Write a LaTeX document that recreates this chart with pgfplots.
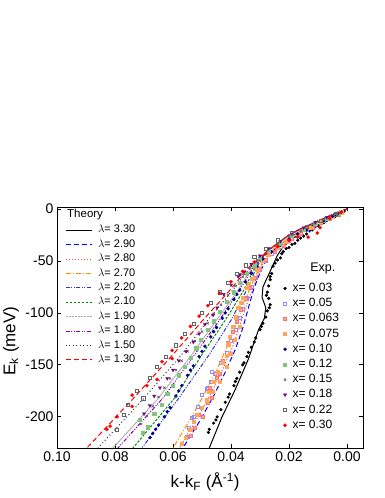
\documentclass[border=0pt]{standalone}
\usepackage{pgfplots}
\pgfplotsset{compat=1.18}
\usepackage{fontspec}
\setmainfont{Liberation Sans}

\definecolor{tblue}{RGB}{0,0,255}
\definecolor{tpink}{RGB}{255,80,80}
\definecolor{torange}{RGB}{255,140,0}
\definecolor{tnavy}{RGB}{50,50,200}
\definecolor{tgreen}{RGB}{0,140,0}
\definecolor{tgray}{RGB}{165,165,165}
\definecolor{tpurple}{RGB}{140,0,170}
\definecolor{tdark}{RGB}{50,50,50}
\definecolor{tred}{RGB}{255,0,0}
\definecolor{elav}{RGB}{140,140,255}
\definecolor{epink}{RGB}{255,110,110}
\definecolor{eorange}{RGB}{255,165,90}
\definecolor{enavy}{RGB}{0,0,150}
\definecolor{egreen}{RGB}{130,195,130}
\definecolor{egray}{RGB}{100,100,100}
\definecolor{epurple}{RGB}{120,0,130}

\pgfplotsset{
  base/.style={
    scale only axis, width=306pt, height=241pt,
    x dir=reverse, xmin=-0.0055, xmax=0.10, ymin=-230, ymax=2,
  },
}

\begin{document}
\begin{tikzpicture}
\path[use as bounding box] (-57pt,-50pt) rectangle (328pt,448pt);

% theory curves
\begin{axis}[base,
  xtick={0,0.02,0.04,0.06,0.08,0.10},
  ytick={-200,-150,-100,-50,0},
  scaled x ticks=false,
  xticklabel style={/pgf/number format/.cd, fixed, fixed zerofill, precision=2},
  tick label style={font=\fontsize{14}{16}\selectfont},
  /pgf/number format/assume math mode=true,
  tick align=inside, major tick length=4pt,
  axis line style={line width=0.9pt},
  every tick/.style={line width=0.8pt},
  xlabel={k-k\textsubscript{F} (Å\textsuperscript{-1})},
  ylabel={E\textsubscript{k} (meV)},
  label style={font=\fontsize{17}{19}\selectfont},
  xlabel style={at={(axis description cs:0.484,-0.141)}, anchor=center},
  ylabel style={at={(axis description cs:-0.150,0.444)}, anchor=center},
  legend image code/.code={\draw[#1, line width=1.1pt] (0pt,0pt) -- (26pt,0pt);},
  legend style={draw=none, fill=none, inner sep=0pt, outer sep=0pt,
    at={(rel axis cs:0.026,0.926)}, anchor=north west,
    font=\fontsize{11}{13}\selectfont,
    nodes={inner sep=0pt, text height=8pt, text depth=3pt},
    row sep=3.4pt, column sep=6pt},
  legend cell align=left,
]
\addplot[color=black, line width=1pt] table {
0 0
0.004 -5
0.008 -10
0.012 -16
0.016 -23
0.020 -31
0.0225 -38
0.0241 -45
0.0262 -58
0.029 -75
0.0293 -85
0.028 -95
0.0285 -105
0.0305 -116
0.0341 -145
0.0386 -174
0.0431 -200
0.0475 -230
};
\addplot[color=tblue, line width=1pt, dash pattern=on 5pt off 3pt] table {
0 0
0.004 -5
0.008 -10
0.012 -15
0.016 -21
0.020 -28
0.024 -36
0.027 -45
0.029 -55
0.031 -68
0.0325 -80
0.034 -95
0.036 -115
0.0385 -135
0.042 -157
0.046 -180
0.051 -205
0.0566 -230
};
\addplot[color=tpink, line width=1pt, dash pattern=on 1.2pt off 1.8pt] table {
0 0
0.004 -5
0.008 -10
0.012 -15
0.016 -21
0.020 -28
0.024 -36
0.027 -44
0.0295 -55
0.0315 -68
0.033 -80
0.035 -95
0.037 -113
0.0395 -133
0.043 -155
0.047 -178
0.052 -203
0.0578 -230
};
\addplot[color=torange, line width=1pt, dash pattern=on 5pt off 2pt on 1pt off 2pt] table {
0 0
0.004 -5
0.008 -10
0.012 -15
0.016 -21
0.020 -28
0.024 -35
0.027 -43
0.030 -55
0.032 -67
0.034 -80
0.036 -95
0.0385 -113
0.041 -130
0.0445 -152
0.049 -177
0.054 -202
0.060 -230
};
\addplot[color=tnavy, line width=1pt, dash pattern=on 4pt off 1.5pt on 1pt off 1.5pt on 1pt off 1.5pt] table {
0 0
0.004 -4
0.008 -9
0.012 -14
0.016 -19
0.020 -25
0.024 -33
0.028 -42
0.031 -55
0.035 -80
0.040 -107
0.0475 -140
0.058 -182
0.0707 -230
};
\addplot[color=tgreen, line width=1pt, dash pattern=on 2.5pt off 1.5pt] table {
0 0
0.004 -4
0.008 -9
0.012 -14
0.016 -19
0.020 -25
0.024 -33
0.028 -42
0.0315 -55
0.036 -80
0.042 -107
0.050 -140
0.0595 -182
0.0738 -230
};
\addplot[color=tgray, line width=1pt, dash pattern=on 1pt off 0.5pt] table {
0 0
0.004 -4
0.008 -9
0.012 -14
0.016 -19
0.020 -25
0.024 -33
0.028 -42
0.0325 -55
0.038 -80
0.045 -107
0.0535 -140
0.065 -182
0.0807 -230
};
\addplot[color=tpurple, line width=1pt, dash pattern=on 4pt off 1.5pt on 1pt off 1.5pt on 1pt off 1.5pt] table {
0 0
0.004 -4
0.008 -9
0.012 -14
0.016 -19
0.020 -25
0.024 -33
0.028 -42
0.032 -55
0.0375 -80
0.044 -107
0.0525 -140
0.0635 -182
0.079 -230
};
\addplot[color=tdark, line width=1pt, dash pattern=on 1pt off 2.5pt] table {
0 0
0.004 -4
0.008 -9
0.012 -14
0.016 -19
0.020 -25
0.024 -33
0.028 -42
0.033 -55
0.040 -80
0.048 -107
0.057 -140
0.070 -182
0.0859 -230
};
\addplot[color=tred, line width=1pt, dash pattern=on 5pt off 3pt] table {
0 0
0.004 -4
0.008 -9
0.012 -14
0.016 -19
0.020 -25
0.024 -33
0.028 -42
0.0335 -55
0.041 -80
0.0497 -107
0.060 -140
0.0736 -182
0.0897 -230
};
\legend{$\lambda$= 3.30,$\lambda$= 2.90,$\lambda$= 2.80,$\lambda$= 2.70,$\lambda$= 2.20,$\lambda$= 2.10,$\lambda$= 1.90,$\lambda$= 1.80,$\lambda$= 1.50,$\lambda$= 1.30}
\node[anchor=west, inner sep=0pt, font=\fontsize{11.5}{13}\selectfont] at (rel axis cs:0.0327,0.967) {Theory};
\node[anchor=west, inner sep=0pt, font=\fontsize{12.5}{14}\selectfont] at (rel axis cs:0.827,0.743) {Exp.};
\end{axis}

% experimental points
\begin{axis}[base, hide axis,
  legend style={draw=none, fill=none, inner sep=0pt, outer sep=0pt,
    at={(rel axis cs:0.740,0.687)}, anchor=north west,
    font=\fontsize{12}{14}\selectfont,
    nodes={inner sep=0pt, text height=9pt, text depth=3pt},
    row sep=3.2pt, column sep=6pt},
  legend cell align=left,
]
\addplot[only marks, mark=*, mark size=1.4pt, black] table {
0.001 -2
0.002 -3
0.003 -5
0.004 -7
0.005 -8
0.006 -10
0.007 -11
0.008 -13
0.009 -14
0.010 -16
0.011 -17
0.012 -20
0.013 -21
0.014 -24
0.015 -26
0.016 -28
0.017 -30
0.018 -33
0.019 -34
0.020 -37
0.021 -38
0.022 -41
0.0225 -43
0.023 -47
0.024 -49
0.0248 -52
0.0255 -55
0.026 -62
0.0265 -65
0.0265 -68
0.027 -74
0.0275 -80
0.0278 -83
0.027 -86
0.0265 -92
0.0268 -95
0.0275 -98
0.028 -104
0.029 -110
0.0295 -113
0.030 -116
0.0315 -124
0.032 -128
0.033 -133
0.034 -138
0.0345 -142
0.0355 -148
0.036 -150
0.037 -157
0.038 -163
0.0385 -166
0.039 -170
0.0405 -178
0.041 -181
0.042 -186
0.0435 -193
0.0448 -200
0.0452 -203
0.046 -206
0.0475 -212
0.0478 -215
};
\addplot[only marks, mark=square, mark size=1.5pt, elav] table {
0.002 -3
0.005 -7
0.008 -11
0.011 -15
0.014 -20
0.017 -25
0.020 -30
0.023 -36
0.026 -43
0.028 -50
0.030 -58
0.0315 -66
0.033 -75
0.0345 -85
0.036 -96
0.037 -105
0.0385 -116
0.040 -127
0.0415 -138
0.0435 -148
0.0455 -158
0.0466 -157
0.047 -166
0.0479 -172
0.0485 -173
0.050 -179
0.0515 -190
0.053 -200
0.0534 -201
0.0545 -210
0.0552 -219
};
\addplot[only marks, mark=square*, mark size=1.5pt, draw=epink, fill=epink!60] table {
0.003 -5
0.006 -9
0.009 -13
0.012 -18
0.016 -24
0.019 -29
0.022 -35
0.025 -41
0.028 -49
0.030 -57
0.032 -66
0.0335 -76
0.035 -86
0.0365 -97
0.038 -108
0.0395 -118
0.041 -129
0.0428 -146
0.0438 -158
0.045 -162
0.0466 -182
0.0475 -172
0.048 -186
0.0497 -200
0.051 -198
0.0525 -210
0.054 -218
};
\addplot[only marks, mark=square*, mark size=1.6pt, draw=eorange, fill=eorange] table {
0.002 -3
0.005 -7
0.009 -12
0.013 -18
0.017 -24
0.021 -31
0.024 -37
0.027 -44
0.029 -50
0.031 -58
0.033 -67
0.034 -72
0.0345 -76
0.036 -85
0.0365 -90
0.0375 -95
0.0385 -104
0.0395 -113
0.0369 -113
0.0405 -123
0.0386 -126
0.041 -130
0.0403 -139
0.0415 -141
0.043 -148
0.0414 -152
0.0445 -157
0.046 -166
0.0438 -166
0.0475 -176
0.0462 -176
0.0485 -184
0.0483 -184
0.050 -191
0.0517 -198
0.053 -205
0.0541 -212
0.0555 -220
0.057 -226
};
\addplot[only marks, mark=*, mark size=1.5pt, enavy] table {
0.002 -3
0.005 -7
0.008 -11
0.011 -15
0.014 -20
0.017 -24
0.020 -29
0.023 -35
0.026 -41
0.029 -48
0.031 -55
0.033 -62
0.035 -70
0.037 -78
0.038 -82
0.039 -87
0.041 -96
0.042 -100
0.043 -105
0.045 -114
0.046 -118
0.047 -123
0.049 -132
0.050 -137
0.051 -142
0.053 -151
0.054 -155
0.055 -160
0.057 -170
0.058 -175
0.059 -180
0.061 -191
0.062 -195
0.063 -200
0.065 -208
0.066 -212
0.067 -216
0.0679 -220
};
\addplot[only marks, mark=square*, mark size=1.6pt, egreen] table {
0.003 -4
0.007 -9
0.011 -14
0.015 -20
0.019 -26
0.023 -33
0.027 -40
0.030 -47
0.032 -54
0.0345 -62
0.037 -71
0.039 -80
0.0415 -89
0.044 -99
0.046 -108
0.048 -116
0.0505 -126
0.052 -134
0.054 -143
0.056 -152
0.058 -160
0.060 -170
0.062 -178
0.064 -188
0.0665 -197
0.0714 -203
0.0686 -210
0.0705 -215
};
\addplot[only marks, mark=x, mark size=1.6pt, egray, line width=0.7pt] table {
0.004 -5
0.008 -10
0.012 -15
0.016 -21
0.020 -27
0.024 -34
0.028 -42
0.031 -49
0.0335 -57
0.036 -65
0.0385 -74
0.041 -83
0.0435 -92
0.046 -101
0.048 -110
0.050 -118
0.0525 -127
0.055 -137
0.057 -146
0.059 -155
0.061 -163
0.063 -172
0.065 -181
0.067 -190
0.069 -199
0.071 -207
};
\addplot[only marks, mark=triangle*, mark size=1.8pt, mark options={rotate=180}, epurple] table {
0.003 -4
0.007 -8
0.011 -13
0.015 -18
0.019 -24
0.023 -31
0.027 -38
0.030 -45
0.033 -53
0.0355 -60
0.0369 -63
0.0375 -65
0.040 -73
0.0425 -82
0.0448 -95
0.0462 -102
0.049 -111
0.051 -120
0.053 -128
0.0555 -137
0.058 -146
0.060 -155
0.062 -163
0.0645 -172
0.0665 -180
0.068 -189
0.070 -197
};
\addplot[only marks, mark=square, mark size=1.6pt, egray] table {
0.004 -5
0.009 -11
0.014 -17
0.019 -23
0.024 -30
0.028 -38
0.032 -46
0.035 -54
0.038 -62
0.041 -71
0.044 -80
0.047 -90
0.050 -100
0.053 -110
0.056 -120
0.059 -131
0.0625 -142
0.0655 -152
0.068 -162
0.0703 -182
0.0725 -175
0.0755 -188
0.077 -198
0.0793 -212
};
\addplot[only marks, mark=*, mark size=1.6pt, tred] table {
0.002 -3
0.006 -9
0.0093 -18
0.0103 -23
0.0134 -27
0.017 -27
0.020 -30
0.024 -36
0.028 -43
0.032 -51
0.036 -60
0.040 -70
0.044 -81
0.048 -93
0.051 -103
0.054 -113
0.057 -124
0.0603 -144
0.0603 -136
0.0638 -147
0.0655 -164
0.069 -170
0.0741 -179
0.0741 -190
0.0793 -200
0.0817 -209
0.0828 -212
};
\legend{x= 0.03,x= 0.05,x= 0.063,x= 0.075,x= 0.10,x= 0.12,x= 0.15,x= 0.18,x= 0.22,x= 0.30}
\end{axis}
\end{tikzpicture}
\end{document}
